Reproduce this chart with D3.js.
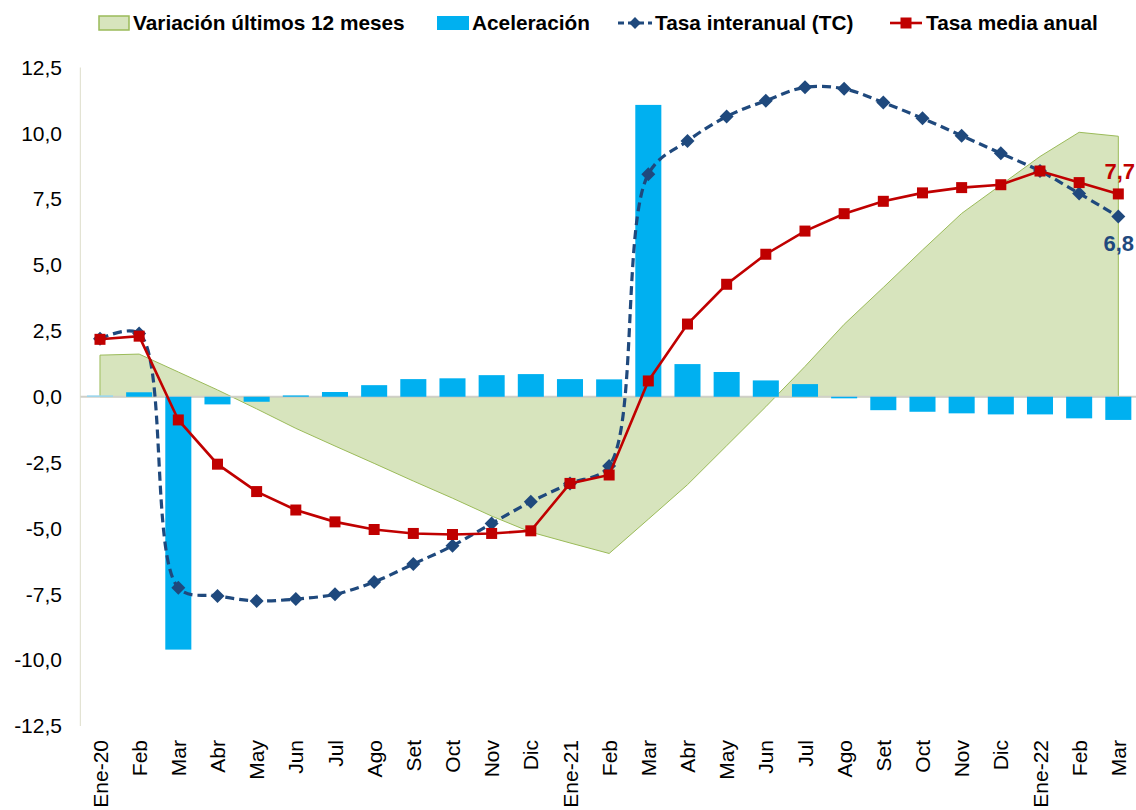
<!DOCTYPE html>
<html>
<head>
<meta charset="utf-8">
<script src="https://cdn.jsdelivr.net/npm/d3@7"></script>
<style>
  html, body { margin: 0; padding: 0; background: #fff; }
  svg { display: block; font-family: "Liberation Sans", Arial, sans-serif; }
</style>
</head>
<body>
<svg id="chart" width="1136" height="810"></svg>
<script>
const categories = ["Ene-20","Feb","Mar","Abr","May","Jun","Jul","Ago","Set","Oct","Nov","Dic",
  "Ene-21","Feb","Mar","Abr","May","Jun","Jul","Ago","Set","Oct","Nov","Dic",
  "Ene-22","Feb","Mar"];
const variacion12 = [1.58,1.62,0.94,0.26,-0.46,-1.2,-1.87,-2.53,-3.2,-3.85,-4.53,-5.14,
  -5.55,-5.95,-4.65,-3.34,-1.86,-0.38,1.15,2.75,4.15,5.57,6.96,8.04,9.12,10.04,9.89];
const aceleracion = [0.05,0.17,-9.6,-0.29,-0.19,0.05,0.18,0.44,0.67,0.7,0.82,0.86,
  0.67,0.66,11.08,1.24,0.94,0.62,0.48,-0.06,-0.51,-0.57,-0.63,-0.67,-0.67,-0.82,-0.88];
const tasaInteranual = [2.2,2.4,-7.25,-7.56,-7.75,-7.68,-7.5,-7.03,-6.35,-5.66,-4.81,-3.99,
  -3.29,-2.63,8.45,9.71,10.64,11.24,11.75,11.69,11.17,10.57,9.91,9.24,8.57,7.72,6.84];
const tasaMedia = [2.18,2.3,-0.88,-2.56,-3.6,-4.3,-4.75,-5.04,-5.19,-5.23,-5.19,-5.09,
  -3.29,-2.97,0.6,2.76,4.27,5.41,6.29,6.95,7.42,7.74,7.94,8.05,8.57,8.13,7.7];
const yTicks = [-12.5,-10,-7.5,-5,-2.5,0,2.5,5,7.5,10,12.5];
const legendLabels = ["Variación últimos 12 meses","Aceleración","Tasa interanual (TC)","Tasa media anual"];

const svg = d3.select("#chart");
const margin = {left: 80.4, right: 1137.9, top: 67.5, bottom: 726};
const idx = d3.range(categories.length);
const x = d3.scaleBand().domain(idx).range([margin.left, margin.right]).paddingInner(0.335).paddingOuter(0.1675);
const xc = i => x(i) + x.bandwidth() / 2;
const y = d3.scaleLinear().domain([-12.5, 12.5]).range([margin.bottom, margin.top]);
const fmt = v => d3.format(".1f")(v).replace(".", ",").replace("−", "-");

const GREEN_FILL = "#D7E4BD", GREEN_LINE = "#9BBB59", BAR = "#00B0F0", NAVY = "#1F497D", RED = "#C00000";

// area
const area = d3.area().x((d, i) => xc(i)).y0(y(0)).y1(d => y(d)).curve(d3.curveLinear);
svg.append("path").datum(variacion12).attr("d", area)
  .attr("fill", GREEN_FILL).attr("stroke", GREEN_LINE).attr("stroke-width", 1);

// left axis line
svg.append("line").attr("x1", margin.left).attr("x2", margin.left)
  .attr("y1", y(12.5)).attr("y2", y(-12.5)).attr("stroke", "#E3E3D3").attr("stroke-width", 1.2);

// zero line
svg.append("line").attr("x1", margin.left).attr("x2", 1136)
  .attr("y1", y(0)).attr("y2", y(0)).attr("stroke", "#D0D0C8").attr("stroke-width", 2);

// bars
svg.append("g").selectAll("rect").data(aceleracion).join("rect")
  .attr("x", (d, i) => x(i)).attr("width", x.bandwidth())
  .attr("y", d => y(Math.max(0, d))).attr("height", d => Math.abs(y(d) - y(0)))
  .attr("fill", (d, i) => i === 0 ? "#8FD6F5" : BAR);

// y axis labels
const yAxis = d3.axisLeft(y).tickValues(yTicks).tickFormat(fmt).tickSize(0).tickPadding(0);
const gy = svg.append("g").attr("transform", `translate(62,0)`).call(yAxis);
gy.select(".domain").remove();
gy.selectAll("text").attr("font-size", 21).attr("fill", "#000")
  .attr("font-family", "'Liberation Sans', Arial, sans-serif");

// x axis labels
const xAxis = d3.axisBottom(x).tickFormat(i => categories[i]).tickSize(0).tickPadding(0);
const gx = svg.append("g").attr("transform", `translate(0,740)`).call(xAxis);
gx.select(".domain").remove();
gx.selectAll("text").attr("font-size", 21).attr("fill", "#000")
  .attr("font-family", "'Liberation Sans', Arial, sans-serif")
  .attr("transform", "rotate(-90)").attr("text-anchor", "end")
  .attr("x", 0).attr("y", 0).attr("dx", 0).attr("dy", "0.36em");

// blue dashed
const lineSmooth = d3.line().x((d, i) => xc(i)).y(d => y(d)).curve(d3.curveCatmullRom.alpha(0.5));
svg.append("path").datum(tasaInteranual).attr("d", lineSmooth)
  .attr("fill", "none").attr("stroke", NAVY).attr("stroke-width", 3.2)
  .attr("stroke-dasharray", "9,5");
const diamond = d3.symbol().type(d3.symbolSquare).size(98);
svg.append("g").selectAll("path").data(tasaInteranual).join("path")
  .attr("d", diamond).attr("transform", (d, i) => `translate(${xc(i)},${y(d)}) rotate(45)`)
  .attr("fill", NAVY);

// red line
const lineStraight = d3.line().x((d, i) => xc(i)).y(d => y(d));
svg.append("path").datum(tasaMedia).attr("d", lineStraight)
  .attr("fill", "none").attr("stroke", RED).attr("stroke-width", 2.6);
svg.append("g").selectAll("rect").data(tasaMedia).join("rect")
  .attr("x", (d, i) => xc(i) - 5.5).attr("y", d => y(d) - 5.5)
  .attr("width", 11).attr("height", 11).attr("fill", RED);

// data labels
const last = categories.length - 1;
svg.append("text").attr("x", 1135).attr("y", y(tasaMedia[last]) - 15).attr("text-anchor", "end")
  .attr("font-size", 22).attr("font-weight", "bold").attr("fill", RED).text(fmt(tasaMedia[last]));
svg.append("text").attr("x", 1134).attr("y", y(tasaInteranual[last]) + 34).attr("text-anchor", "end")
  .attr("font-size", 22).attr("font-weight", "bold").attr("fill", NAVY).text(fmt(tasaInteranual[last]));

// legend
const lg = svg.append("g").attr("font-size", 20.8).attr("font-weight", "bold");
const ly = 23;
lg.append("rect").attr("x", 99).attr("y", ly - 7).attr("width", 30).attr("height", 14)
  .attr("fill", GREEN_FILL).attr("stroke", GREEN_LINE).attr("stroke-width", 1.5);
lg.append("text").attr("x", 133).attr("y", ly).attr("dy", "0.35em").text(legendLabels[0]);
lg.append("rect").attr("x", 437).attr("y", ly - 7).attr("width", 32).attr("height", 14).attr("fill", BAR);
lg.append("text").attr("x", 472).attr("y", ly).attr("dy", "0.35em").text(legendLabels[1]);
lg.append("line").attr("x1", 618).attr("x2", 652).attr("y1", ly).attr("y2", ly)
  .attr("stroke", NAVY).attr("stroke-width", 3.2).attr("stroke-dasharray", "6,4");
lg.append("path").attr("d", d3.symbol().type(d3.symbolSquare).size(70)).attr("transform", `translate(635,${ly}) rotate(45)`).attr("fill", NAVY);
lg.append("text").attr("x", 655).attr("y", ly).attr("dy", "0.35em").text(legendLabels[2]);
lg.append("line").attr("x1", 890).attr("x2", 922).attr("y1", ly).attr("y2", ly)
  .attr("stroke", RED).attr("stroke-width", 2.6);
lg.append("rect").attr("x", 900.5).attr("y", ly - 5.5).attr("width", 11).attr("height", 11).attr("fill", RED);
lg.append("text").attr("x", 926).attr("y", ly).attr("dy", "0.35em").text(legendLabels[3]);
</script>
</body>
</html>
